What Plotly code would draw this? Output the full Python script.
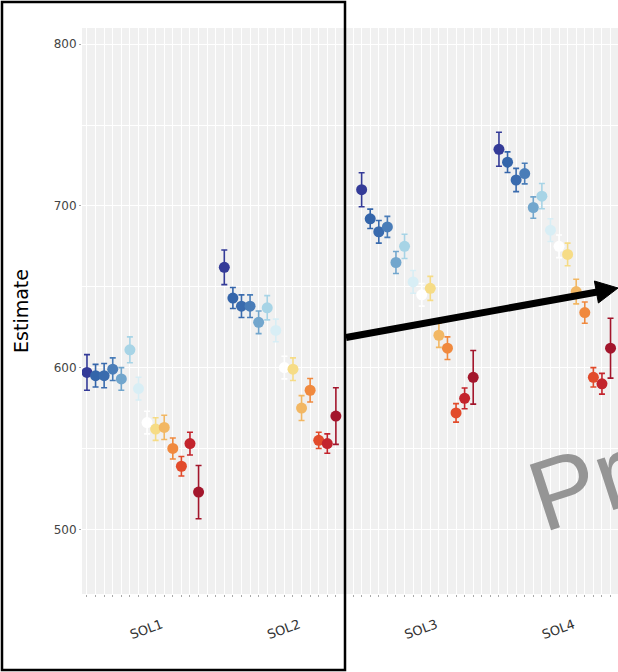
import plotly.graph_objects as go

groups = ["SOL1", "SOL2", "SOL3", "SOL4"]
levels = [f"L{i}" for i in range(1, 15)]
colors = ["#343b98", "#3465aa", "#3a6bae", "#4a7db8", "#72a6cd", "#a7d4e6",
          "#d8eef5", "#ffffff", "#f6dc86", "#f2b763", "#f0893e", "#e24b2b",
          "#c3242d", "#a3162c"]

# estimates per group (14 levels each)
est_sol1 = [597, 595, 595, 599, 593, 611, 587, 566, 562, 563, 550, 539, 553, 523]
est_sol2 = [662, 643, 638, 638, 628, 637, 623, 600, 599, 575, 586, 555, 553, 570]
est_sol3 = [710, 692, 684, 687, 665, 675, 653, 645, 649, 620, 612, 572, 581, 594]
est_sol4 = [735, 727, 716, 720, 699, 706, 685, 675, 670, 647, 634, 594, 590, 612]
# half-width of error bars
err_sol1 = [11, 7, 7.5, 7, 7, 8, 7, 7, 7, 7.5, 6.5, 6, 7, 16.5]
err_sol2 = [10.7, 6.5, 7, 7, 7, 7.5, 7, 7, 7, 7.7, 7.3, 5, 6, 17.5]
err_sol3 = [10.5, 6, 7, 6.5, 6.8, 7.5, 7, 7, 7.4, 7.5, 7, 5.7, 6.4, 16.6]
err_sol4 = [10.5, 6.4, 7.2, 6.4, 6.6, 7.8, 7, 7, 7, 7.6, 6.6, 6, 6.4, 18.5]

estimates = [est_sol1, est_sol2, est_sol3, est_sol4]
errors = [err_sol1, err_sol2, err_sol3, err_sol4]

slots_per_group = 16
n_slots = slots_per_group * len(groups) - 2

fig = go.Figure()
for j, lev in enumerate(levels):
    xs = [g * slots_per_group + j for g in range(len(groups))]
    ys = [estimates[g][j] for g in range(len(groups))]
    es = [errors[g][j] for g in range(len(groups))]
    fig.add_trace(go.Scatter(
        x=xs, y=ys, mode="markers", name=lev, showlegend=False,
        marker=dict(color=colors[j], size=11, line=dict(width=0)),
        error_y=dict(type="data", array=es, color=colors[j], thickness=1.6, width=3),
    ))

# invisible trace for the group label axis
centers = [g * slots_per_group + (len(levels) - 1) / 2 for g in range(len(groups))]
fig.add_trace(go.Scatter(x=centers, y=[None] * len(centers), xaxis="x2",
                         mode="markers", showlegend=False, hoverinfo="skip"))

xr = [-0.58, 61.87]
fig.update_layout(
    width=618, height=672, autosize=False,
    margin=dict(l=82, r=0, t=28, b=78),
    paper_bgcolor="white", plot_bgcolor="#F0F0F0",
    font=dict(family="DejaVu Sans, sans-serif", color="#4d4d4d", size=12),
    xaxis=dict(range=xr, tickvals=list(range(n_slots)), showticklabels=False,
               ticks="outside", ticklen=2, tickcolor="#aaaaaa", tickwidth=1,
               showgrid=True, gridcolor="white", gridwidth=1, zeroline=False,
               showline=False),
    xaxis2=dict(range=xr, overlaying="x", side="bottom", anchor="y",
                tickvals=[c + 2.2 for c in centers], ticktext=groups, tickangle=-20,
                ticks="", showgrid=False, zeroline=False, showline=False,
                tickfont=dict(size=13, color="#333333"), ticklabelstandoff=20),
    yaxis=dict(range=[460, 810], tickvals=[500, 600, 700, 800],
               ticks="outside", ticklen=2, tickcolor="#aaaaaa",
               showgrid=True, gridcolor="white", gridwidth=1.4, zeroline=False,
               tickfont=dict(size=12, color="#444444"),
               minor=dict(tickvals=[550, 650, 750], showgrid=True,
                          gridcolor="white", gridwidth=0.7, ticks=""),
               title=dict(text="Estimate", font=dict(size=19, color="black"),
                          standoff=20)),
)

# frame and arrow overlays (pixel -> paper conversion)
W0, W1, H0, H1 = 82, 618, 28, 594
def px(x):
    return (x - W0) / (W1 - W0)
def py(y):
    return (H1 - y) / (H1 - H0)

fig.add_shape(type="rect", xref="paper", yref="paper",
              x0=px(2), x1=px(345), y0=py(670), y1=py(2),
              line=dict(color="black", width=2.5), fillcolor="rgba(0,0,0,0)")
fig.add_shape(type="line", xref="paper", yref="paper",
              x0=px(346), y0=py(337.5), x1=px(600), y1=py(291.5),
              line=dict(color="black", width=7))
fig.add_shape(type="path", xref="paper", yref="paper",
              path=f"M {px(618)} {py(288)} L {px(594.4)} {py(281)} L {px(598.4)} {py(303)} Z",
              fillcolor="black", line=dict(color="black", width=1))

fig.add_annotation(text="Pr", xref="paper", yref="paper",
                   x=px(580), y=py(484), xanchor="center", yanchor="middle",
                   showarrow=False, textangle=-18,
                   font=dict(size=100, color="#959595", family="Liberation Sans, Arial"))

fig.write_html("out.html", config={"displayModeBar": False},
               post_script="document.body.style.margin='0px';")
